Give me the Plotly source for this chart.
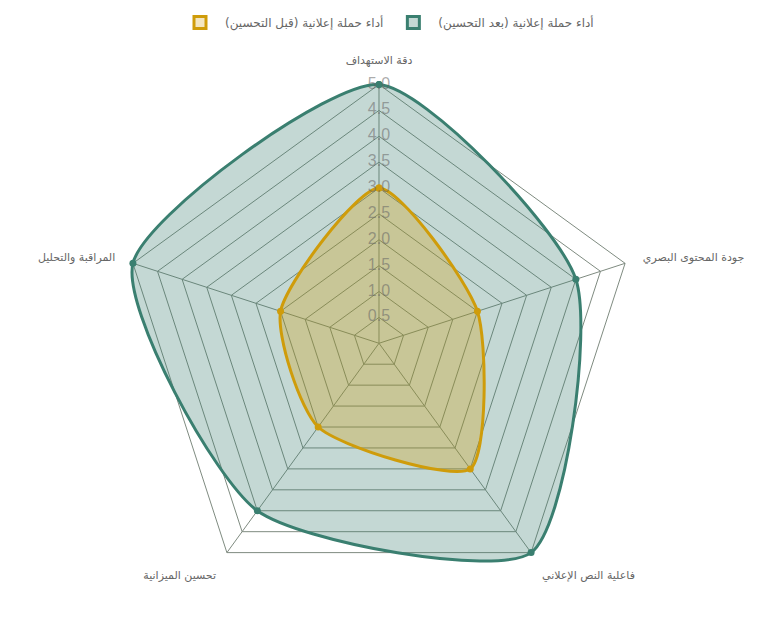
import plotly.graph_objects as go

categories = ["دقة الاستهداف", "جودة المحتوى البصري", "فاعلية النص الإعلاني", "تحسين الميزانية", "المراقبة والتحليل"]
after_values = [5.0, 4.0, 5.0, 4.0, 5.0]
before_values = [3.0, 2.0, 3.0, 2.0, 2.0]
after_name = "أداء حملة إعلانية (بعد التحسين)"
before_name = "أداء حملة إعلانية (قبل التحسين)"
tick_values = [0.5, 1.0, 1.5, 2.0, 2.5, 3.0, 3.5, 4.0, 4.5, 5.0]
tick_labels = ["0.5", "1.0", "1.5", "2.0", "2.5", "3.0", "3.5", "4.0", "4.5", "5.0"]
scale_max = 5.0
outer_range = 5.35

green = "#3a7f70"
gold = "#cf9c0a"
green_fill = "rgba(58,127,112,0.30)"
gold_fill = "rgba(207,156,10,0.30)"
grid = "#7f8b80"

def closed(v):
    return list(v) + [v[0]]

fig = go.Figure()

# grid rings and spokes (polygon grid ending at scale_max)
ring_r, ring_t = [], []
for t in tick_values:
    ring_r += [t] * (len(categories) + 1) + [None]
    ring_t += closed(categories) + [None]
for c in categories:
    ring_r += [0, scale_max, None]
    ring_t += [c, c, None]
fig.add_trace(go.Scatterpolar(r=ring_r, theta=ring_t, mode="lines",
                              line=dict(color=grid, width=1), showlegend=False,
                              hoverinfo="skip", connectgaps=False))

fig.add_trace(go.Scatterpolar(
    r=closed(after_values), theta=closed(categories), name=after_name,
    mode="lines+markers", fill="toself", fillcolor=green_fill,
    line=dict(color=green, width=3, shape="spline", smoothing=0.65),
    marker=dict(size=7, color=green), showlegend=False,
))
fig.add_trace(go.Scatterpolar(
    r=closed(before_values), theta=closed(categories), name=before_name,
    mode="lines+markers", fill="toself", fillcolor=gold_fill,
    line=dict(color=gold, width=3, shape="spline", smoothing=0.65),
    marker=dict(size=7, color=gold), showlegend=False,
))
fig.add_trace(go.Scatterpolar(
    r=tick_values, theta=[categories[0]] * len(tick_values), text=tick_labels,
    mode="text", textposition="middle center", cliponaxis=False,
    textfont=dict(size=16, color="rgba(100,100,100,0.55)", family="Arial, sans-serif"),
    showlegend=False, hoverinfo="skip",
))
# legend entries (box symbols)
fig.add_trace(go.Barpolar(r=[None], theta=[categories[0]], name=before_name,
                          marker=dict(color="rgba(207,156,10,0.25)", line=dict(color=gold, width=3))))
fig.add_trace(go.Barpolar(r=[None], theta=[categories[0]], name=after_name,
                          marker=dict(color=green_fill, line=dict(color=green, width=3))))

fig.update_layout(
    width=758, height=625,
    margin=dict(l=0, r=0, t=0, b=0),
    paper_bgcolor="white", plot_bgcolor="white",
    font=dict(family="DejaVu Sans, Arial, sans-serif", color="#666666", size=12),
    showlegend=True,
    legend=dict(orientation="h", x=0.5, xanchor="center", y=1.012, yanchor="top",
                font=dict(size=12, color="#666666"), itemwidth=40),
    polar=dict(
        domain=dict(x=[91 / 758, 651 / 758], y=[1 - 612 / 625, 1 - 52 / 625]),
        gridshape="circular",
        bgcolor="rgba(0,0,0,0)",
        radialaxis=dict(range=[0, outer_range], showticklabels=False, ticks="",
                        showgrid=False, showline=False, angle=90),
        angularaxis=dict(direction="clockwise", rotation=90, showline=False,
                         showgrid=False, ticks="",
                         tickfont=dict(size=11, color="#666666")),
    ),
)

fig.write_html("out.html")
